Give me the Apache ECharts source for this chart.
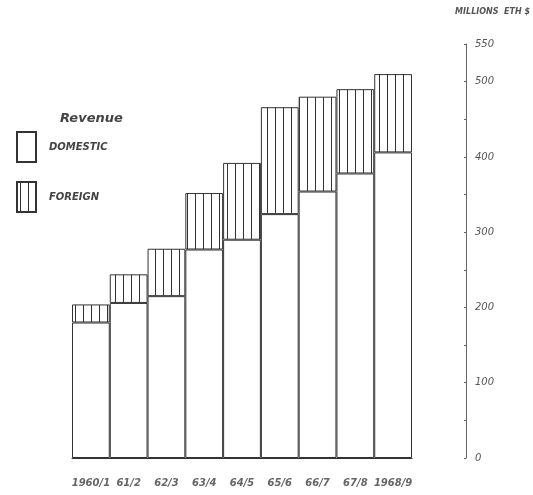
<!DOCTYPE html>
<html><head><meta charset="utf-8">
<script src="https://cdn.jsdelivr.net/npm/echarts@6/dist/echarts.min.js"></script>
<style>html,body{margin:0;padding:0;background:#fff}#c{width:533px;height:495px}</style>
</head><body><div id="c"></div>
<script>
const categories = ['1960/1','61/2','62/3','63/4','64/5','65/6','66/7','67/8','1968/9'];
const domestic = [180, 206, 215, 277, 290, 324, 354, 378, 406];
const foreign = [24, 38, 63, 75, 102, 142, 126, 112, 104];
const axisName = 'MILLIONS  ETH $';

function hatch() {
  const c = document.createElement('canvas');
  c.width = 8; c.height = 8;
  const g = c.getContext('2d');
  g.fillStyle = '#fff'; g.fillRect(0,0,8,8);
  g.fillStyle = '#333'; g.fillRect(3,0,1,8);
  return c;
}
const pat = {image: hatch(), repeat: 'repeat'};
const ink = '#333';
const font = 'DejaVu Sans';

const chart = echarts.init(document.getElementById('c'));
chart.setOption({
  animation: false,
  backgroundColor: '#fff',
  grid: {left: 72, right: 120, top: 44, bottom: 37},
  title: {text: 'Revenue', left: 55, top: 107,
    textStyle: {fontFamily: font, fontSize: 13, fontWeight: 'bold', fontStyle: 'italic', color: '#444'}},
  legend: {orient: 'vertical', left: 11, top: 126, itemWidth: 19, itemHeight: 30, itemGap: 18,
    icon: 'rect',
    data: ['DOMESTIC','FOREIGN'],
    textStyle: {fontFamily: font, fontSize: 10, fontWeight: 'bold', fontStyle: 'italic', color: '#444', padding: [0,0,4,8]}},
  xAxis: {type: 'category', data: categories,
    axisLine: {lineStyle: {color: ink}}, axisTick: {show: false},
    axisLabel: {fontFamily: font, fontSize: 10, fontWeight: 'bold', fontStyle: 'italic', color: '#666', margin: 20, interval: 0}},
  yAxis: {type: 'value', position: 'right', offset: 54, min: 0, max: 550, interval: 50,
    name: axisName, nameLocation: 'end', nameGap: 28,
    nameTextStyle: {fontFamily: font, fontSize: 8, fontWeight: 'bold', fontStyle: 'italic', color: '#555', align: 'right', padding: [0,-64,0,0]},
    axisLine: {show: true, lineStyle: {color: '#666'}},
    axisTick: {show: true, inside: true, length: 2, lineStyle: {color: '#666'}},
    splitLine: {show: false},
    axisLabel: {fontFamily: font, fontSize: 10, fontStyle: 'italic', color: '#555', margin: 9,
      formatter: v => (v % 100 === 0 || v === 550) ? String(v) : ''}},
  series: [
    {name: 'DOMESTIC', type: 'bar', stack: 'r', data: domestic, barCategoryGap: 0,
      itemStyle: {color: '#fff', borderColor: ink, borderWidth: 1}},
    {name: 'FOREIGN', type: 'bar', stack: 'r', data: foreign, barCategoryGap: 0,
      itemStyle: {color: pat, borderColor: ink, borderWidth: 1}}
  ]
});
</script></body></html>
